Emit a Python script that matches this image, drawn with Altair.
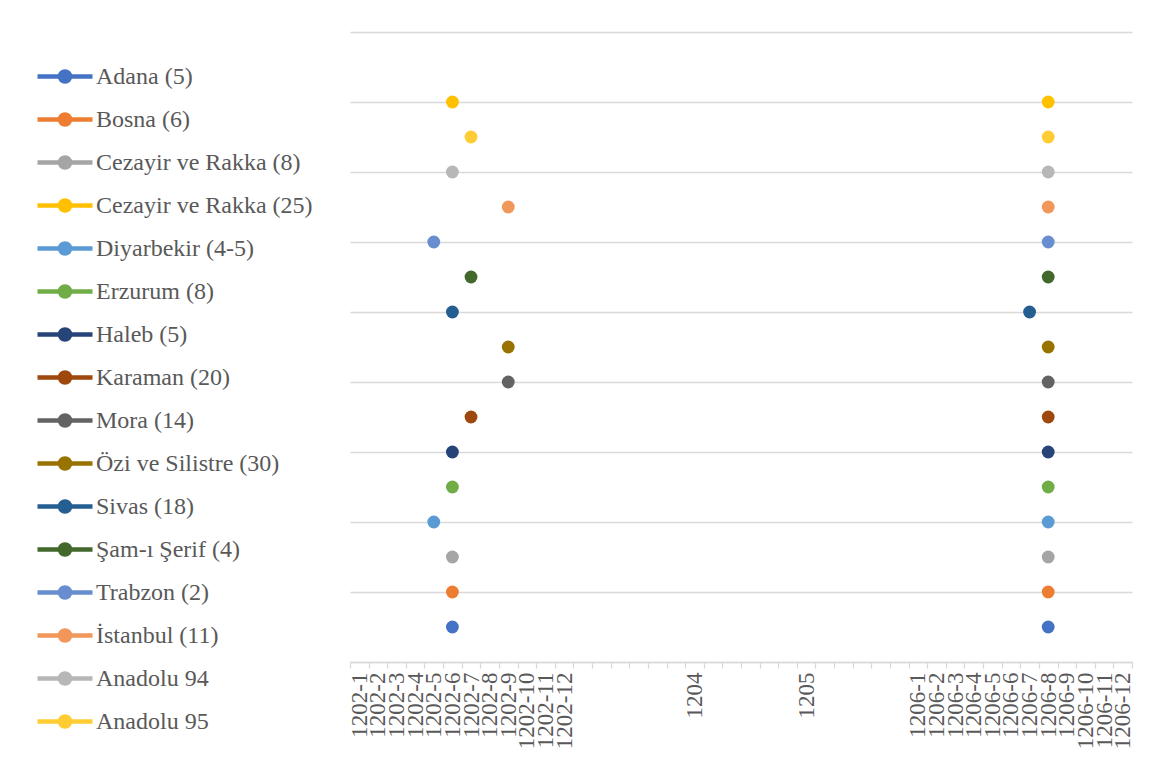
import altair as alt
import pandas as pd

# Legend order (series names) and colours
series = [
    "Adana (5)", "Bosna (6)", "Cezayir ve Rakka (8)", "Cezayir ve Rakka (25)",
    "Diyarbekir (4-5)", "Erzurum (8)", "Haleb (5)", "Karaman (20)", "Mora (14)",
    "Özi ve Silistre (30)", "Sivas (18)", "Şam-ı Şerif (4)", "Trabzon (2)",
    "İstanbul (11)", "Anadolu 94", "Anadolu 95",
]
colors = [
    "#4472C4", "#ED7D31", "#A5A5A5", "#FFC000", "#5B9BD5", "#70AD47", "#264478",
    "#9E480E", "#636363", "#997300", "#255E91", "#43682B", "#698ED0", "#F1975A",
    "#B7B7B7", "#FFCD33",
]
# y value of each series
y_vals = [1, 2, 3, 16, 4, 5, 6, 7, 8, 9, 10, 11, 12, 13, 14, 15]
# first and second date of each series
first_date = [
    "1202-6", "1202-6", "1202-6", "1202-6", "1202-5", "1202-6", "1202-6", "1202-7",
    "1202-9", "1202-9", "1202-6", "1202-7", "1202-5", "1202-9", "1202-6", "1202-7",
]
second_date = [
    "1206-8", "1206-8", "1206-8", "1206-8", "1206-8", "1206-8", "1206-8", "1206-8",
    "1206-8", "1206-8", "1206-7", "1206-8", "1206-8", "1206-8", "1206-8", "1206-8",
]

# x categories (blank slots start with "_")
x_categories = (
    [f"1202-{m}" for m in range(1, 13)]
    + [f"_{i}" for i in range(1, 7)]
    + ["1204"]
    + [f"_{i}" for i in range(7, 12)]
    + ["1205"]
    + [f"_{i}" for i in range(12, 17)]
    + [f"1206-{m}" for m in range(1, 13)]
)

rows = []
for s, y, a, b in zip(series, y_vals, first_date, second_date):
    rows.append({"series": s, "y": y, "date": a})
    rows.append({"series": s, "y": y, "date": b})
df = pd.DataFrame(rows)

FONT = "Liberation Serif"
TXT = "#595959"
GRID = "#D9D9D9"

symbol_path = "M-3.93,0H3.93M0.72,0A0.72,0.72,0,1,1,-0.72,0A0.72,0.72,0,1,1,0.72,0Z"

legend = alt.Legend(
    title=None,
    orient="none",
    legendX=-297,
    legendY=32.5,
    symbolType=symbol_path,
    symbolSize=196,
    symbolStrokeWidth=4.5,
    symbolOpacity=1,
    labelFont=FONT,
    labelFontSize=24,
    labelColor=TXT,
    labelOffset=19,
    labelLimit=400,
    rowPadding=13,
    padding=0,
)

scale = alt.Scale(domain=series, range=colors)

chart = (
    alt.Chart(df)
    .mark_circle(size=165, opacity=1, strokeWidth=0)
    .encode(
        x=alt.X(
            "date:N",
            scale=alt.Scale(domain=x_categories, paddingInner=0, paddingOuter=0),
            axis=alt.Axis(
                title=None,
                labelAngle=270,
                labelAlign="right",
                labelBaseline="middle",
                labelFont=FONT,
                labelFontSize=23,
                labelColor=TXT,
                labelPadding=4,
                labelOverlap=False,
                labelBound=False,
                labelExpr="indexof(datum.label, '_') == 0 ? '' : datum.label",
                tickBand="extent",
                tickSize=6,
                tickColor=GRID,
                tickWidth=1.3,
                domainColor=GRID,
                domainWidth=1.5,
                grid=False,
            ),
        ),
        y=alt.Y(
            "y:Q",
            scale=alt.Scale(domain=[0, 18], nice=False),
            axis=alt.Axis(
                title=None,
                labels=False,
                ticks=False,
                domain=False,
                values=list(range(0, 19, 2)),
                grid=True,
                gridColor=GRID,
                gridWidth=1.3,
            ),
        ),
        fill=alt.Fill("series:N", scale=scale, legend=legend),
        stroke=alt.Stroke("series:N", scale=scale, legend=legend),
    )
    .properties(
        width=782,
        height=630,
        autosize=alt.AutoSizeParams(type="none"),
        padding={"left": 342, "top": 24, "right": 20, "bottom": 100},
    )
    .configure(background="white", font=FONT)
    .configure_view(strokeWidth=0, stroke="transparent")
)

chart.save("out.html", embed_options={"renderer": "svg", "actions": False})
